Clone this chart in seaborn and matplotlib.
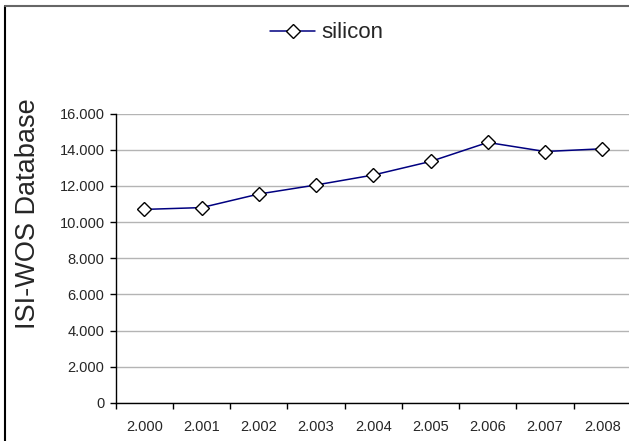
import matplotlib
matplotlib.use("Agg")
import matplotlib.pyplot as plt
from matplotlib.lines import Line2D
from matplotlib.ticker import FixedLocator, FuncFormatter
import seaborn as sns
import pandas as pd

years = ["2.000", "2.001", "2.002", "2.003", "2.004", "2.005", "2.006", "2.007", "2.008"]
silicon = [10700, 10800, 11550, 12050, 12600, 13350, 14400, 13900, 14050]
y_ticks = [0, 2000, 4000, 6000, 8000, 10000, 12000, 14000, 16000]
series_name = "silicon"
y_label = "ISI-WOS Database"

sns.set_theme(style="white")
plt.rcParams['font.family'] = ['Liberation Sans', 'DejaVu Sans']

df = pd.DataFrame({"year": years, "value": silicon})

fig = plt.figure(figsize=(6.29, 4.41), dpi=100)
ax = fig.add_axes([0.184, 0.0862, 0.819, 0.6564])

sns.lineplot(data=df, x="year", y="value", ax=ax, color="#000080", linewidth=1.1,
             marker="D", markersize=7.6, markerfacecolor="white",
             markeredgecolor="black", markeredgewidth=1.0, label=series_name,
             sort=False, clip_on=False, zorder=3)

ax.set_xlim(-0.5, len(years) - 0.5)
ax.set_ylim(0, 16000)

# y axis
ax.yaxis.set_major_locator(FixedLocator(y_ticks))
ax.yaxis.set_major_formatter(FuncFormatter(lambda v, p: f"{int(v):,}".replace(",", ".")))
ax.grid(axis="y", color="#b4b4b4", linewidth=1.0)
ax.set_axisbelow(True)

# x axis: ticks at boundaries, labels centered
ax.set_xticks([i - 0.5 for i in range(len(years) + 1)])
ax.set_xticklabels([""] * (len(years) + 1))
ax.set_xticks(range(len(years)), minor=True)
ax.set_xticklabels(years, minor=True)
ax.tick_params(axis="x", which="major", direction="out", length=4, width=1, color="black", bottom=True)
ax.tick_params(axis="x", which="minor", length=0, pad=12, labelsize=10.5, bottom=True)
ax.tick_params(axis="y", direction="out", length=4, width=1, color="black", left=True, labelsize=10.5, pad=4)

for s in ["top", "right"]:
    ax.spines[s].set_visible(False)
for s in ["left", "bottom"]:
    ax.spines[s].set_color("black")
    ax.spines[s].set_linewidth(1.0)

ax.set_xlabel("")
ax.set_ylabel("")
fig.text(28 / 629, 1 - 214 / 441, y_label, rotation=90, ha="center", va="center", fontsize=19.5)

leg = ax.legend(loc="center", bbox_to_anchor=(327 / 629, 1 - 33 / 441),
                bbox_transform=fig.transFigure, frameon=False, fontsize=16,
                handlelength=2.0, handletextpad=0.3)

# figure frame (left and top)
fig.add_artist(Line2D([5 / 629, 5 / 629], [0, 1 - 6 / 441], transform=fig.transFigure,
                      color="black", linewidth=1.5))
fig.add_artist(Line2D([5 / 629, 1], [1 - 6 / 441, 1 - 6 / 441], transform=fig.transFigure,
                      color="#666666", linewidth=1.5))

fig.savefig("out.png", dpi=100)
